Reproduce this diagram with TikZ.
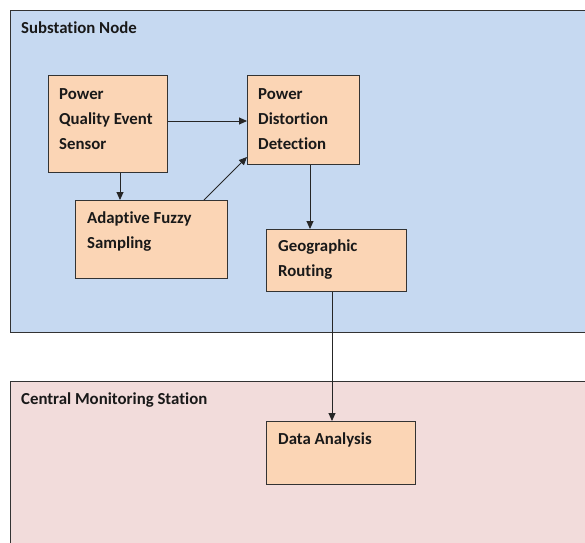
\documentclass[tikz,border=0pt]{standalone}
\usepackage{fontspec}
\setmainfont{Carlito}[Ligatures=NoCommon]
\usetikzlibrary{arrows.meta}

\definecolor{zoneblue}{HTML}{C6D9F1}
\definecolor{zonepink}{HTML}{F2DCDB}
\definecolor{boxfill}{HTML}{FBD5B5}
\definecolor{edgegray}{HTML}{333333}

\begin{document}
\begin{tikzpicture}[x=1pt,y=-1pt,
  zone/.style={draw=edgegray, line width=1.2pt, inner sep=0, anchor=north west},
  block/.style={draw=edgegray, fill=boxfill, line width=1.2pt, inner sep=0, anchor=north west},
  % anchored at the baseline of the last line
  lbl/.style={font=\fontsize{16.8}{25}\selectfont\bfseries, align=left, inner sep=0, anchor=base west, text=black!90},
  flow/.style={draw=black!85, line width=0.9pt, -{Triangle[length=8pt,width=7pt]}}]
\useasboundingbox (0,0) rectangle (585,542);
\clip (0,0) rectangle (585,542);

% zones
\node[zone, fill=zoneblue, minimum width=600pt, minimum height=322pt] (sub) at (10,10) {};
\node[zone, fill=zonepink, minimum width=600pt, minimum height=200pt] (cms) at (10,381) {};
\node[lbl] (subT) at (21,33) {Substation Node};
\node[lbl] (cmsT) at (21,404) {Central Monitoring Station};

% blocks
\node[block, minimum width=119pt, minimum height=97pt] (pqes) at (48,75) {};
\node[block, minimum width=112pt, minimum height=89pt] (pdd) at (247,75) {};
\node[block, minimum width=152pt, minimum height=78pt] (afs) at (75,200) {};
\node[block, minimum width=140pt, minimum height=62pt] (gr) at (266,229) {};
\node[block, minimum width=149pt, minimum height=63pt] (da) at (266,421) {};

% block texts
\node[lbl] (pqesT) at (59,149) {Power\\Quality Event\\Sensor};
\node[lbl] (pddT) at (258,149) {Power\\Distortion\\Detection};
\node[lbl] (afsT) at (87,248) {Adaptive Fuzzy\\Sampling};
\node[lbl] (grT) at (278,276) {Geographic\\Routing};
\node[lbl] (daT) at (278,444) {Data Analysis};

% connector guides
\coordinate (h1) at (0,121);
\coordinate (v1) at (120,0);
\coordinate (s3) at (204,0);
\coordinate (h3) at (0,157);
\coordinate (v4) at (310,0);
\coordinate (v5) at (332,0);

% connectors
\draw[flow] (pqes.east |- h1) -- (pdd.west |- h1);
\draw[flow] (pqes.south -| v1) -- (afs.north -| v1);
\draw[flow] (afs.north -| s3) -- (pdd.west |- h3);
\draw[flow] (pdd.south -| v4) -- (gr.north -| v4);
\draw[flow] (gr.south -| v5) -- (da.north -| v5);
\end{tikzpicture}
\end{document}
